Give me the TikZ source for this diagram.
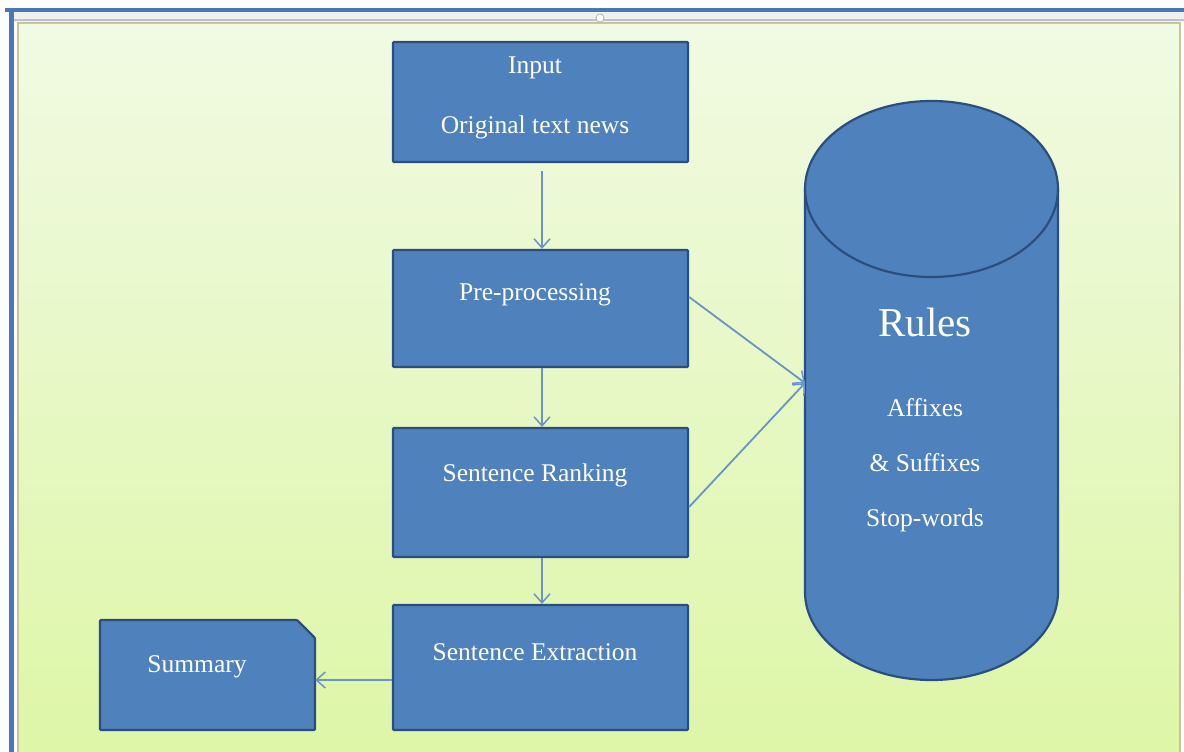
\documentclass[tikz,border=0pt]{standalone}
\usepackage{fontspec}
\setmainfont{Liberation Serif}
\usetikzlibrary{arrows.meta}
\definecolor{boxfill}{HTML}{4F81BD}
\definecolor{boxline}{HTML}{2B4E7E}
\definecolor{arrowcol}{HTML}{6A94C6}
\definecolor{paneltop}{HTML}{F1FAE3}
\definecolor{panelbot}{HTML}{DDF6A6}
\definecolor{frameblue}{HTML}{4A78B6}
\tikzset{
  stepbox/.style={draw=boxline, line width=2.2pt, fill=boxfill, rounded corners=1pt, inner sep=0pt},
  boxtext/.style={text=white, font=\fontsize{25.5}{30}\selectfont, inner sep=0pt},
  flow/.style={draw=arrowcol, line width=1.8pt, -{Straight Barb[length=9pt, width=16pt, line width=1.5pt]}},
}
\begin{document}
\begin{tikzpicture}[x=1pt,y=-1pt]
\useasboundingbox (0,0) rectangle (1184,752);
% background frame
\fill[white] (0,0) rectangle (1184,752);
\fill[frameblue] (5,8) rectangle (1184,12);
\fill[frameblue] (9,8) rectangle (14,752);
\fill[gray!12] (14,12) rectangle (1184,22);
\draw[blue!25!gray!40, line width=1.5pt] (14,20) -- (1184,20);
\shade[top color=paneltop, bottom color=panelbot, draw=olive!45!gray!50, line width=1.2pt] (18,23) rectangle (1180,760);
\draw[gray!60, fill=white, line width=0.8pt] (600,18) circle (4);
% boxes
\node[stepbox, minimum width=295pt, minimum height=120pt] (input) at (540.5,102) {};
\node[stepbox, minimum width=295pt, minimum height=117pt] (pre) at (540.5,308.5) {};
\node[stepbox, minimum width=295pt, minimum height=129pt] (rank) at (540.5,492.5) {};
\node[stepbox, minimum width=295pt, minimum height=125pt] (extr) at (540.5,667.5) {};
\draw[stepbox] (100,620) -- (297,620) -- (315,638) -- (315,730) -- (100,730) -- cycle;
\node[inner sep=0pt, minimum width=215pt, minimum height=110pt] (summary) at (207.5,675) {};
% cylinder
\draw[stepbox, rounded corners=0pt] (805,189) -- (805,592) arc[start angle=180, end angle=0, x radius=126.5, y radius=88] -- (1058,189) arc[start angle=0, end angle=-180, x radius=126.5, y radius=88] -- cycle;
\draw[draw=boxline, line width=2.2pt] (805,189) arc[start angle=180, end angle=0, x radius=126.5, y radius=88];
\node[inner sep=0pt, minimum width=253pt, minimum height=580pt] (rules) at (931.5,390) {};
\coordinate (rulesin) at (805,383);
% texts
\node[boxtext] (tinput) at (535,68) {Input};
\node[boxtext] (torig) at (535,127) {Original text news};
\node[boxtext] (tpre) at (535,295) {Pre-processing};
\node[boxtext] (trank) at (535,475) {Sentence Ranking};
\node[boxtext] (textr) at (535,652) {Sentence Extraction};
\node[boxtext] (tsum) at (197,667) {Summary};
\node[boxtext, font=\fontsize{41}{46}\selectfont] (trules) at (925,322) {Rules};
\node[boxtext] (taff) at (925,408) {Affixes};
\node[boxtext] (tsuf) at (925,463) {\& Suffixes};
\node[boxtext] (tstop) at (925,520) {Stop-words};
% connectors
\draw[flow] ([xshift=1.5pt,yshift=-8pt]input.south) -- ([xshift=1.5pt]pre.north);
\draw[flow] ([xshift=1.5pt]pre.south) -- ([xshift=1.5pt]rank.north);
\draw[flow] ([xshift=1.5pt]rank.south) -- ([xshift=1.5pt]extr.north);
\draw[flow] ([yshift=-12.5pt]extr.west) -- ([yshift=-5pt]summary.east);
\draw[flow] ([yshift=11.5pt]pre.east) -- (rulesin);
\draw[flow] ([yshift=-14.5pt]rank.east) -- (rulesin);
\end{tikzpicture}
\end{document}
